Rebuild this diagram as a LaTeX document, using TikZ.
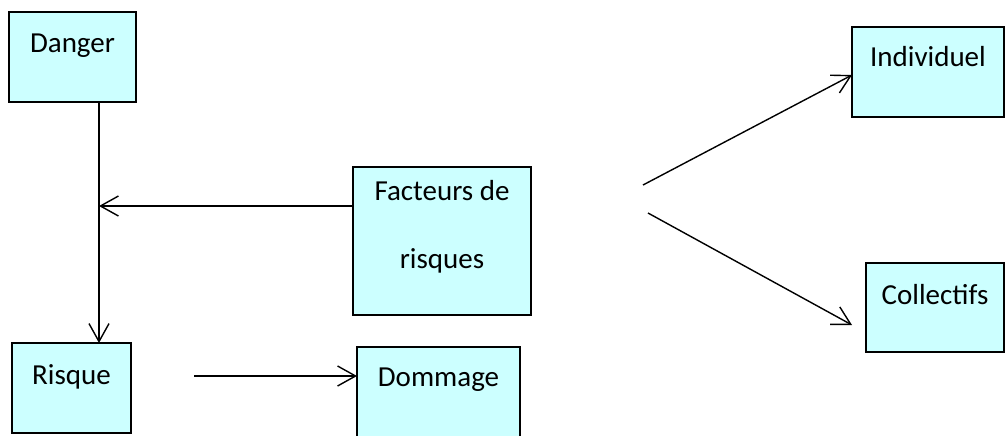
\documentclass[tikz,border=0pt]{standalone}
\usepackage{fontspec}
\setmainfont{Carlito}
\usepackage{tikz}
\usetikzlibrary{arrows.meta}
\usetikzlibrary{positioning}
\definecolor{boxcyan}{RGB}{204,255,255}
\definecolor{boxline}{RGB}{0,0,0}
\newcommand\riskfont{\fontsize{14.5}{34}\selectfont}
\tikzset{
  riskbox/.style args={#1,#2}{shape=rectangle,draw=boxline,line width=1pt,fill=boxcyan,text height=#1,text depth=#2,align=center,font=\riskfont},
  riskarrow/.style={line width=0.7pt,-{Straight Barb[length=9pt,width=10pt,line width=0.7pt]}}
}

\begin{document}
\begin{tikzpicture}[x=0.5pt, y=-0.5pt, every node/.style={inner sep=0mm, outer sep=0mm}]
\clip (0,0) rectangle (1005,435);
\node[riskbox={20pt,25pt}, anchor=north west, minimum width=63.5pt] (danger) at (9,12) {Danger};
\node[riskbox={20.5pt,24.5pt}, anchor=north west, minimum width=59.5pt] (risque) at (12,343) {Risque};
\node[riskbox={19.5pt,40pt}, anchor=north west, minimum width=81.5pt] (dommage) at (357,347) {Dommage};
\node[riskbox={50.5pt,23.5pt}, anchor=north west, minimum width=89pt] (facteurs) at (353,167) {Facteurs de\\risques};
\node[riskbox={19.5pt,25.5pt}, anchor=north west, minimum width=76pt] (individuel) at (852,27) {Individuel};
\node[riskbox={20.5pt,24pt}, anchor=north west, minimum width=69pt] (collectifs) at (866,263) {Collectifs};
% free ends
\coordinate (spine) at (99,206);
\coordinate (risquestart) at (194,376);
\coordinate (upstart) at (643,185);
\coordinate (upend) at (852,75);
\coordinate (downstart) at (648,213);
\coordinate (downend) at (852,325);
\draw[riskarrow] (danger.south -| spine) -- (risque.north -| spine);
\draw[riskarrow] (facteurs.west |- spine) -- (spine);
\draw[riskarrow] (risquestart) -- (risquestart -| dommage.west);
\draw[riskarrow] (upstart) -- (upend);
\draw[riskarrow] (downstart) -- (downend);
\end{tikzpicture}
\end{document}
